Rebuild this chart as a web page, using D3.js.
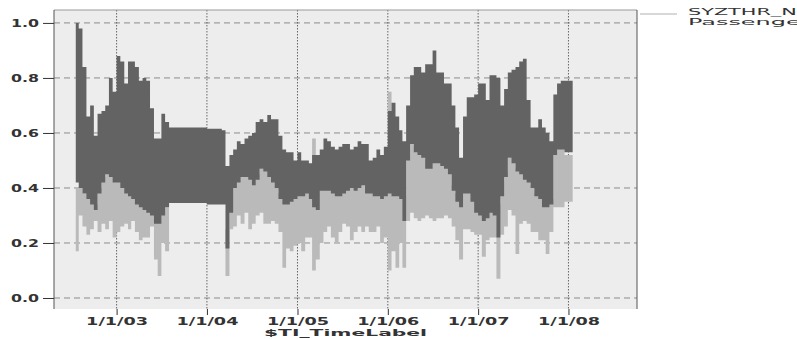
<!DOCTYPE html>
<html>
<head>
<meta charset="utf-8">
<title>SYZTHR_N time series</title>
<script src="https://d3js.org/d3.v7.min.js"></script>
<style>
    body { margin: 0; background: #fff; }
    svg text { font-family: "DejaVu Sans", Verdana, sans-serif; fill: #333; }
    .tick line { stroke: #333; }
</style>
</head>
<body>
<svg id="chart" width="797" height="339"></svg>
<script>
// half-monthly bins, start dates; the last entry closes the final bin
var dates = [
    "2002-07-20","2002-08-01","2002-08-16","2002-09-01","2002-09-16","2002-10-01","2002-10-16","2002-11-01","2002-11-16","2002-12-01","2002-12-16",
    "2003-01-01","2003-01-16","2003-02-01","2003-02-16","2003-03-01","2003-03-16","2003-04-01","2003-04-16","2003-05-01","2003-05-16","2003-06-01","2003-06-16",
    "2003-07-01","2003-07-16","2003-08-01","2003-08-16","2003-09-01","2003-09-16","2003-10-01","2003-10-16","2003-11-01","2003-11-16","2003-12-01","2003-12-16",
    "2004-01-01","2004-01-16","2004-02-01","2004-02-16","2004-03-01","2004-03-16","2004-04-01","2004-04-16","2004-05-01","2004-05-16","2004-06-01","2004-06-16",
    "2004-07-01","2004-07-16","2004-08-01","2004-08-16","2004-09-01","2004-09-16","2004-10-01","2004-10-16","2004-11-01","2004-11-16","2004-12-01","2004-12-16",
    "2005-01-01","2005-01-16","2005-02-01","2005-02-16","2005-03-01","2005-03-16","2005-04-01","2005-04-16","2005-05-01","2005-05-16","2005-06-01","2005-06-16",
    "2005-07-01","2005-07-16","2005-08-01","2005-08-16","2005-09-01","2005-09-16","2005-10-01","2005-10-16","2005-11-01","2005-11-16","2005-12-01","2005-12-16",
    "2006-01-01","2006-01-16","2006-02-01","2006-02-16","2006-03-01","2006-03-16","2006-04-01","2006-04-16","2006-05-01","2006-05-16","2006-06-01","2006-06-16",
    "2006-07-01","2006-07-16","2006-08-01","2006-08-16","2006-09-01","2006-09-16","2006-10-01","2006-10-16","2006-11-01","2006-11-16","2006-12-01","2006-12-16",
    "2007-01-01","2007-01-16","2007-02-01","2007-02-16","2007-03-01","2007-03-16","2007-04-01","2007-04-16","2007-05-01","2007-05-16","2007-06-01","2007-06-16",
    "2007-07-01","2007-07-16","2007-08-01","2007-08-16","2007-09-01","2007-09-16","2007-10-01","2007-10-16","2007-11-01","2007-11-16","2007-12-01","2007-12-16",
    "2008-01-01","2008-01-18"
];

// SYZTHR_N (dark) - upper and lower reach in each bin
var darkHigh = [
    1.00,0.98,0.84,0.66,0.70,0.59,0.67,0.68,0.70,0.80,0.75,
    0.88,0.86,0.78,0.86,0.86,0.84,0.79,0.80,0.79,0.69,0.58,0.58,
    0.67,0.64,0.62,0.62,0.62,0.62,0.62,0.62,0.62,0.62,0.62,0.62,
    0.615,0.615,0.615,0.615,0.61,0.48,0.52,0.54,0.57,0.56,0.58,0.59,
    0.60,0.64,0.65,0.64,0.665,0.65,0.65,0.59,0.54,0.53,0.53,0.50,
    0.53,0.50,0.50,0.49,0.52,0.52,0.54,0.58,0.57,0.55,0.54,0.55,
    0.56,0.56,0.54,0.55,0.57,0.56,0.56,0.50,0.51,0.54,0.52,0.55,
    0.68,0.71,0.66,0.61,0.57,0.70,0.81,0.84,0.84,0.82,0.85,0.85,
    0.90,0.82,0.82,0.78,0.78,0.70,0.62,0.51,0.66,0.73,0.73,0.74,
    0.78,0.78,0.72,0.81,0.81,0.80,0.70,0.76,0.82,0.83,0.84,0.86,
    0.87,0.72,0.62,0.62,0.65,0.62,0.60,0.57,0.74,0.78,0.79,0.79,
    0.79
];
var darkLow = [
    0.42,0.40,0.38,0.36,0.34,0.32,0.38,0.42,0.45,0.44,0.42,
    0.42,0.40,0.38,0.37,0.36,0.34,0.33,0.32,0.31,0.30,0.27,0.27,
    0.30,0.33,0.345,0.345,0.345,0.345,0.345,0.345,0.345,0.345,0.345,0.345,
    0.34,0.34,0.34,0.34,0.34,0.18,0.31,0.40,0.42,0.44,0.44,0.43,
    0.41,0.43,0.47,0.46,0.44,0.42,0.40,0.36,0.34,0.34,0.35,0.36,
    0.37,0.37,0.38,0.36,0.33,0.32,0.39,0.39,0.39,0.38,0.37,0.37,
    0.38,0.39,0.40,0.39,0.40,0.41,0.38,0.38,0.37,0.37,0.36,0.37,
    0.38,0.37,0.37,0.36,0.28,0.50,0.56,0.53,0.52,0.51,0.47,0.47,
    0.49,0.49,0.48,0.47,0.45,0.39,0.35,0.33,0.38,0.38,0.35,0.31,
    0.30,0.28,0.29,0.31,0.30,0.22,0.37,0.44,0.51,0.49,0.46,0.45,
    0.43,0.42,0.40,0.37,0.36,0.33,0.33,0.34,0.52,0.54,0.54,0.53,
    0.53
];

// Passenger (light) - null where the series has no values
var lightHigh = [
    0.40,0.40,0.38,0.38,0.36,0.34,0.40,0.44,0.47,0.50,0.47,
    0.46,0.44,0.42,0.40,0.38,0.40,0.40,0.38,0.36,0.34,0.30,0.30,
    0.32,0.33,null,null,null,null,null,null,null,null,null,null,
    null,null,null,null,null,0.25,0.40,0.43,0.44,0.47,0.48,0.45,
    0.44,0.45,0.47,0.48,0.47,0.44,0.42,0.38,0.36,0.36,0.37,0.38,
    0.39,0.40,0.40,0.39,0.58,0.40,0.42,0.42,0.45,0.41,0.40,0.40,
    0.40,0.41,0.42,0.41,0.42,0.43,0.40,0.40,0.39,0.39,0.39,0.40,
    0.75,0.39,0.39,0.38,0.37,0.52,0.57,0.55,0.54,0.52,0.50,0.50,
    0.50,0.50,0.49,0.48,0.47,0.41,0.38,0.38,0.40,0.40,0.39,0.37,
    0.36,0.36,0.36,0.35,0.34,0.34,0.42,0.46,0.51,0.51,0.47,0.46,
    0.45,0.44,0.41,0.38,0.37,0.35,0.35,0.36,0.54,0.56,0.56,0.52,
    0.52
];
var lightLow = [
    0.17,0.30,0.26,0.23,0.25,0.28,0.24,0.27,0.25,0.28,0.22,
    0.24,0.26,0.27,0.25,0.28,0.24,0.21,0.22,0.22,0.26,0.14,0.08,
    0.20,0.17,null,null,null,null,null,null,null,null,null,null,
    null,null,null,null,null,0.08,0.25,0.26,0.30,0.27,0.31,0.25,
    0.27,0.30,0.31,0.27,0.27,0.28,0.27,0.24,0.11,0.18,0.17,0.19,
    0.20,0.17,0.22,0.22,0.10,0.14,0.20,0.24,0.26,0.22,0.20,0.24,
    0.27,0.26,0.21,0.24,0.26,0.24,0.26,0.24,0.24,0.26,0.20,0.22,
    0.10,0.17,0.11,0.20,0.11,0.28,0.31,0.29,0.28,0.29,0.30,0.29,
    0.28,0.29,0.29,0.30,0.29,0.26,0.21,0.14,0.25,0.25,0.24,0.23,
    0.23,0.15,0.21,0.22,0.22,0.07,0.23,0.26,0.32,0.30,0.16,0.27,
    0.28,0.27,0.24,0.24,0.21,0.21,0.16,0.24,0.33,0.33,0.33,0.35,
    0.35
];

var yTicks = [0, 0.2, 0.4, 0.6, 0.8, 1.0];
var xTicks = ["2003-01-01", "2004-01-01", "2005-01-01", "2006-01-01", "2007-01-01", "2008-01-01"];
var xTickLabels = ["1/1/03", "1/1/04", "1/1/05", "1/1/06", "1/1/07", "1/1/08"];
var xTitle = "$TI_TimeLabel";
var legendLines = ["SYZTHR_N", "Passenger"];

var svg = d3.select("#chart");
var parse = d3.timeParse("%Y-%m-%d");
var plot = { left: 54, right: 637, top: 10, bottom: 309 };

var x = d3.scaleTime()
    .domain([parse("2002-04-23"), parse("2008-10-04")])
    .range([plot.left, plot.right]);
var y = d3.scaleLinear()
    .domain([-0.04, 1.047])
    .range([plot.bottom, plot.top]);

// plot background
svg.append("rect")
    .attr("x", plot.left).attr("y", plot.top)
    .attr("width", plot.right - plot.left).attr("height", plot.bottom - plot.top)
    .attr("fill", "#ededed");

// grid
svg.append("g").selectAll("line")
    .data(yTicks).enter().append("line")
    .attr("x1", plot.left).attr("x2", plot.right)
    .attr("y1", function (d) { return y(d); }).attr("y2", function (d) { return y(d); })
    .attr("stroke", "#8c8c8c").attr("stroke-dasharray", "6,4");
svg.append("g").selectAll("line")
    .data(xTicks).enter().append("line")
    .attr("x1", function (d) { return x(parse(d)); }).attr("x2", function (d) { return x(parse(d)); })
    .attr("y1", plot.top).attr("y2", plot.bottom)
    .attr("stroke", "#666").attr("stroke-dasharray", "1.5,1.5");

// build stepped bands, two points per bin
function band(hi, lo) {
    var pts = [];
    hi.forEach(function (h, i) {
        var a = parse(dates[i]), b = parse(dates[i + 1]);
        pts.push({ t: a, hi: h, lo: lo[i] }, { t: b, hi: h, lo: lo[i] });
    });
    return pts;
}
var area = d3.area()
    .defined(function (d) { return d.hi != null; })
    .x(function (d) { return x(d.t); })
    .y0(function (d) { return y(d.lo); })
    .y1(function (d) { return y(d.hi); });

svg.append("path").datum(band(lightHigh, lightLow))
    .attr("d", area).attr("fill", "#bababa");
svg.append("path").datum(band(darkHigh, darkLow))
    .attr("d", area).attr("fill", "#636363");

// frame
svg.append("line").attr("x1", plot.left).attr("x2", plot.right).attr("y1", plot.top).attr("y2", plot.top)
    .attr("stroke", "#999");
svg.append("line").attr("x1", plot.left).attr("x2", plot.left).attr("y1", plot.top).attr("y2", plot.bottom)
    .attr("stroke", "#555");
svg.append("line").attr("x1", plot.right).attr("x2", plot.right).attr("y1", plot.top).attr("y2", plot.bottom)
    .attr("stroke", "#555");

// axes
var yAxis = svg.append("g")
    .attr("transform", "translate(" + plot.left + ",0)")
    .call(d3.axisLeft(y).tickValues(yTicks).tickFormat(d3.format(".1f")).tickSize(11).tickPadding(4));
yAxis.select(".domain").remove();
yAxis.selectAll("text")
    .attr("font-size", 11).attr("font-weight", "bold")
    .attr("textLength", 28).attr("lengthAdjust", "spacingAndGlyphs");

var xAxis = svg.append("g")
    .attr("transform", "translate(0," + plot.bottom + ")")
    .call(d3.axisBottom(x).tickValues(xTicks.map(parse))
        .tickFormat(function (d, i) { return xTickLabels[i]; }).tickSize(6).tickPadding(3));
xAxis.select(".domain").remove();
xAxis.selectAll("text")
    .attr("font-size", 10.5).attr("font-weight", "bold")
    .attr("textLength", 62).attr("lengthAdjust", "spacingAndGlyphs");

svg.append("text")
    .attr("x", (plot.left + plot.right) / 2).attr("y", 336)
    .attr("text-anchor", "middle")
    .attr("font-size", 9.5).attr("font-weight", "bold")
    .attr("textLength", 163).attr("lengthAdjust", "spacingAndGlyphs")
    .text(xTitle);

// legend (runs off the right edge)
svg.append("line").attr("x1", 640).attr("x2", 677).attr("y1", 14).attr("y2", 14)
    .attr("stroke", "#b0b0b0");
svg.selectAll(".legend").data(legendLines).enter().append("text")
    .attr("class", "legend")
    .attr("x", 688).attr("y", function (d, i) { return 15 + i * 9.5; })
    .attr("font-size", 8.5)
    .attr("textLength", function (d) { return d.length * 13.6; })
    .attr("lengthAdjust", "spacingAndGlyphs")
    .text(function (d) { return d; });
</script>
</body>
</html>
